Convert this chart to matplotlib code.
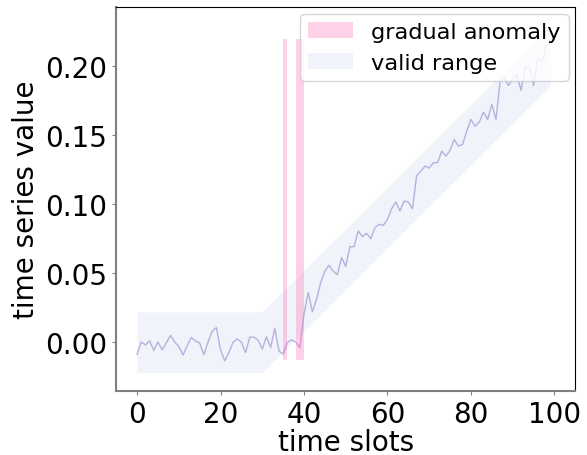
import numpy as np
import matplotlib
matplotlib.use('Agg')
import matplotlib.pyplot as plt

# series
values = [-0.0087, 0.0002, -0.0020, 0.0010, -0.0060, 0.0002, -0.0056, -0.0005, 0.0050, 0.0002,
          -0.0030, -0.0094, -0.0026, 0.0034, 0.0008, -0.0005, -0.0090, 0.0000, 0.0080, 0.0106,
          -0.0056, -0.0135, -0.0075, 0.0000, 0.0024, 0.0000, -0.0075, 0.0037, 0.0037, 0.0015,
          -0.0050, 0.0040, -0.0038, 0.0099, -0.0063, -0.0087, -0.0002, 0.0017, 0.0002, -0.0040,
          0.0203, 0.0360, 0.0222, 0.0310, 0.0433, 0.0517, 0.0558, 0.0515, 0.0490, 0.0614,
          0.0550, 0.0693, 0.0693, 0.0807, 0.0766, 0.0790, 0.0751, 0.0831, 0.0855, 0.0848,
          0.0891, 0.0969, 0.1017, 0.0952, 0.1024, 0.1017, 0.0969, 0.1210, 0.1241, 0.1278,
          0.1263, 0.1302, 0.1302, 0.1386, 0.1350, 0.1393, 0.1471, 0.1423, 0.1435, 0.1531,
          0.1616, 0.1567, 0.1597, 0.1669, 0.1616, 0.1725, 0.1616, 0.1894, 0.1918, 0.1862,
          0.1906, 0.1942, 0.1828, 0.1988, 0.2004, 0.1862, 0.2063, 0.2031, 0.2138, 0.2174]
slots = np.arange(len(values))

anomaly_slots = [35, 36, 38, 39, 40]
anomaly_low, anomaly_high = -0.013, 0.22

range_x = [0, 30, 99]
range_low = [-0.022, -0.022, 0.186]
range_high = [0.022, 0.022, 0.230]

plt.rcParams['font.family'] = 'DejaVu Sans'

fig, ax = plt.subplots(figsize=(5.87, 4.56), dpi=100)
fig.subplots_adjust(left=0.198, right=0.98, top=0.982, bottom=0.14)

mask = np.isin(slots, anomaly_slots)
ax.fill_between(slots, anomaly_low, anomaly_high, where=mask, color='#ff69b4', alpha=0.3,
                linewidth=0, label='gradual anomaly', zorder=3)
ax.fill_between(range_x, range_low, range_high, color='#dbe3f4', alpha=0.4,
                linewidth=0, label='valid range', zorder=1)
ax.plot(slots, values, color='#b8b0de', linewidth=1, zorder=2)

ax.set_xlim(-5, 105)
ax.set_ylim(-0.0355, 0.243)
ax.set_xticks([0, 20, 40, 60, 80, 100])
ax.set_yticks([0.0, 0.05, 0.10, 0.15, 0.20])
ax.yaxis.set_major_formatter(matplotlib.ticker.FormatStrFormatter('%.2f'))
ax.tick_params(axis='both', labelsize=20, color='gray', length=3)

for side in ['left', 'bottom']:
    ax.spines[side].set_color('gray')
    ax.spines[side].set_linewidth(1.5)

ax.set_xlabel('time slots', fontsize=20, labelpad=0)
ax.set_ylabel('time series value', fontsize=20)

ax.legend(loc='upper right', fontsize=16.2, borderaxespad=0.3, handlelength=2.0,
          borderpad=0.35)

plt.savefig('out.png', dpi=100)
